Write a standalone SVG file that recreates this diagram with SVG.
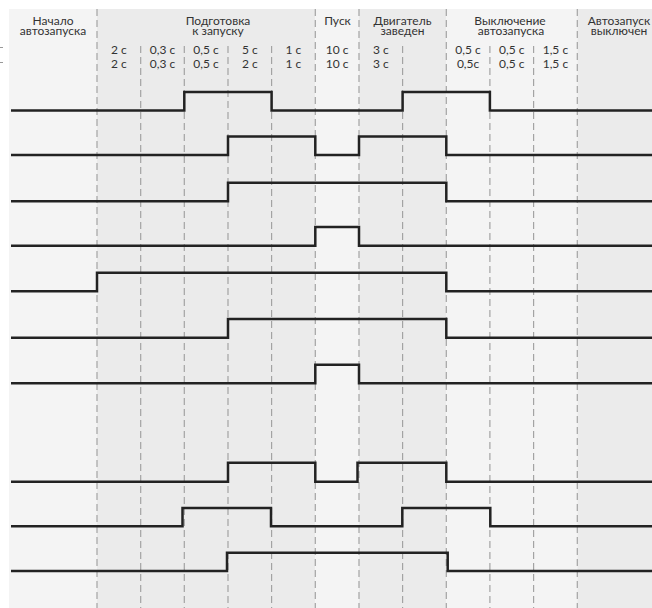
<svg xmlns="http://www.w3.org/2000/svg" width="652" height="608" viewBox="0 0 652 608">
<style>
.bgL{fill:#f4f4f4}
.bgD{fill:#ebebeb}
.grid{stroke:#a3a3a3;stroke-width:1.2;stroke-dasharray:7 4;fill:none}
.sig{stroke:#222;stroke-width:2.5;fill:none;stroke-linejoin:miter}
.h{font-family:Lato,"Liberation Sans",sans-serif;font-size:12px;fill:#333;text-anchor:middle}
.t{font-family:Lato,"Liberation Sans",sans-serif;font-size:12px;fill:#333;text-anchor:middle}
</style>
<rect width="652" height="608" fill="#ffffff"/>
<g id="background">
<rect class="bgL" x="9" y="9" width="88" height="599"/>
<rect class="bgD" x="97" y="9" width="218.3" height="599"/>
<rect class="bgL" x="315.3" y="9" width="43.7" height="599"/>
<rect class="bgD" x="359" y="9" width="87.3" height="599"/>
<rect class="bgL" x="446.3" y="9" width="131" height="599"/>
<rect class="bgD" x="577.3" y="9" width="74.7" height="599"/>
<line x1="0" y1="47.5" x2="3" y2="47.5" stroke="#999" stroke-width="1"/>
<line x1="0" y1="62.5" x2="3" y2="62.5" stroke="#999" stroke-width="1"/>
</g>
<g id="grid">
<line class="grid" x1="97" y1="9" x2="97" y2="608"/>
<line class="grid" x1="140.7" y1="46" x2="140.7" y2="608"/>
<line class="grid" x1="184.3" y1="46" x2="184.3" y2="608"/>
<line class="grid" x1="228" y1="46" x2="228" y2="608"/>
<line class="grid" x1="271.6" y1="46" x2="271.6" y2="608"/>
<line class="grid" x1="315.3" y1="9" x2="315.3" y2="608"/>
<line class="grid" x1="359" y1="9" x2="359" y2="608"/>
<line class="grid" x1="402.6" y1="46" x2="402.6" y2="608"/>
<line class="grid" x1="446.3" y1="9" x2="446.3" y2="608"/>
<line class="grid" x1="489.9" y1="46" x2="489.9" y2="608"/>
<line class="grid" x1="533.6" y1="46" x2="533.6" y2="608"/>
<line class="grid" x1="577.3" y1="9" x2="577.3" y2="608"/>
</g>
<g id="headers">
<g id="h-start"><text class="h" x="53" y="25">Начало</text><text class="h" x="53" y="35">автозапуска</text></g>
<g id="h-prep"><text class="h" x="218" y="25">Подготовка</text><text class="h" x="218" y="35">к запуску</text></g>
<g id="h-crank"><text class="h" x="337.5" y="25">Пуск</text></g>
<g id="h-run"><text class="h" x="402.5" y="25">Двигатель</text><text class="h" x="402.5" y="35">заведен</text></g>
<g id="h-stop"><text class="h" x="510" y="25">Выключение</text><text class="h" x="511" y="35">автозапуска</text></g>
<g id="h-off"><text class="h" x="619" y="25">Автозапуск</text><text class="h" x="619" y="35">выключен</text></g>
</g>
<g id="timings">
<text class="t" x="118.8" y="53.5">2 с</text><text class="t" x="118.8" y="67.5">2 с</text>
<text class="t" x="162.5" y="53.5">0,3 с</text><text class="t" x="162.5" y="67.5">0,3 с</text>
<text class="t" x="206.1" y="53.5">0,5 с</text><text class="t" x="206.1" y="67.5">0,5 с</text>
<text class="t" x="249.8" y="53.5">5 с</text><text class="t" x="249.8" y="67.5">2 с</text>
<text class="t" x="293.4" y="53.5">1 с</text><text class="t" x="293.4" y="67.5">1 с</text>
<text class="t" x="337.1" y="53.5">10 с</text><text class="t" x="337.1" y="67.5">10 с</text>
<text class="t" x="380.8" y="53.5">3 с</text><text class="t" x="380.8" y="67.5">3 с</text>
<text class="t" x="468.1" y="53.5">0,5 с</text><text class="t" x="468.1" y="67.5">0,5с</text>
<text class="t" x="511.8" y="53.5">0,5 с</text><text class="t" x="511.8" y="67.5">0,5 с</text>
<text class="t" x="555.4" y="53.5">1,5 с</text><text class="t" x="555.4" y="67.5">1,5 с</text>
</g>
<g id="signals">
<g id="s1"><polyline class="sig" points="11,110.5 184.3,110.5 184.3,92 271.6,92 271.6,110.5 402.6,110.5 402.6,92 489.9,92 489.9,110.5 652,110.5"/></g>
<g id="s2"><polyline class="sig" points="11,155 228,155 228,136.5 315.3,136.5 315.3,155 359,155 359,136.5 446.3,136.5 446.3,155 652,155"/></g>
<g id="s3"><polyline class="sig" points="11,201.3 228,201.3 228,182.7 446.3,182.7 446.3,201.3 652,201.3"/></g>
<g id="s4"><polyline class="sig" points="11,245.7 315.3,245.7 315.3,227 359,227 359,245.7 652,245.7"/></g>
<g id="s5"><polyline class="sig" points="11,291.3 97,291.3 97,272.7 446.3,272.7 446.3,291.3 652,291.3"/></g>
<g id="s6"><polyline class="sig" points="11,337.7 228,337.7 228,319 446.3,319 446.3,337.7 652,337.7"/></g>
<g id="s7"><polyline class="sig" points="11,383.3 315.3,383.3 315.3,364.7 359,364.7 359,383.3 652,383.3"/></g>
<g id="s8"><polyline class="sig" points="11,481.7 228,481.7 228,462.7 315.3,462.7 315.3,481.7 357.5,481.7 357.5,462.7 446.3,462.7 446.3,481.7 652,481.7"/></g>
<g id="s9"><polyline class="sig" points="11,526.3 182.5,526.3 182.5,508 271,508 271,526.3 402.3,526.3 402.3,508 490.3,508 490.3,526.3 652,526.3"/></g>
<g id="s10"><polyline class="sig" points="11,571 227,571 227,552.7 447.7,552.7 447.7,571 652,571"/></g>
</g>
</svg>
